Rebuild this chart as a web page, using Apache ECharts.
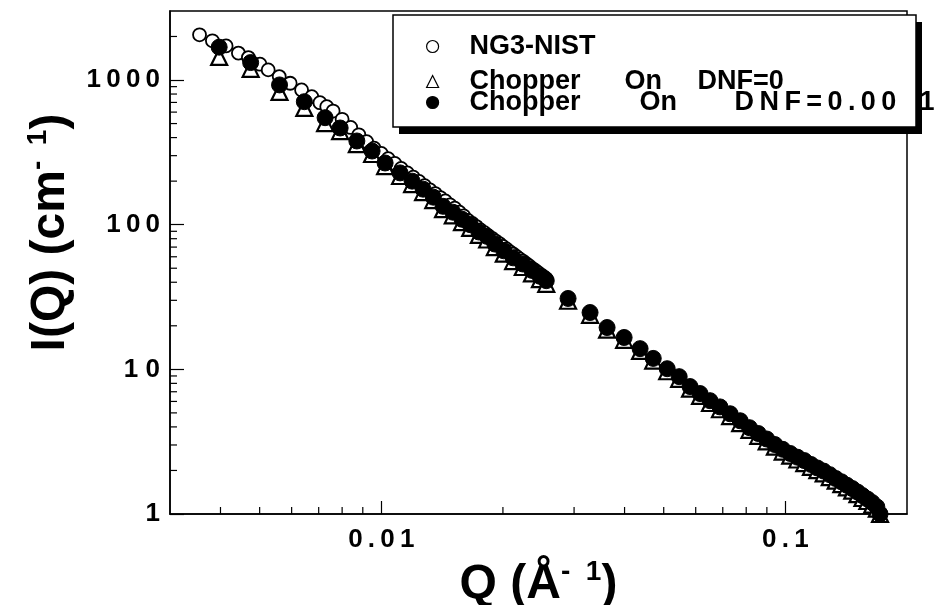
<!DOCTYPE html>
<html>
<head>
<meta charset="utf-8">
<script src="https://cdn.jsdelivr.net/npm/echarts@6/dist/echarts.min.js"></script>
<style>
html, body { margin: 0; padding: 0; background: #fff; }
#chart { width: 934px; height: 605px; }
</style>
</head>
<body>
<div id="chart"></div>
<script>
// NG3-NIST (open circles)
var ng3Q = [0.00355, 0.00382, 0.00413, 0.00443, 0.00469, 0.00501, 0.00525, 0.00559, 0.00595, 0.00635,
	0.00673, 0.00705, 0.00733, 0.0076, 0.0080, 0.0084, 0.0088, 0.0092, 0.0096, 0.0100,
	0.0104, 0.0108, 0.0112, 0.0116, 0.0120, 0.0124, 0.0128, 0.0132, 0.0136, 0.0140,
	0.0144, 0.0148, 0.0152, 0.0156, 0.0160, 0.0164, 0.0168, 0.0172, 0.0176, 0.0180,
	0.0184, 0.0188, 0.0192, 0.0196, 0.0200, 0.0204, 0.0208, 0.0212, 0.0216, 0.0220,
	0.0224, 0.0228, 0.0232, 0.0236, 0.0240, 0.0244, 0.0248, 0.0252, 0.0256];
var ng3I = [2053, 1866, 1722, 1535, 1429, 1287, 1175, 1056, 950, 854,
	767, 697, 654, 610, 535, 470, 418, 375, 338, 311,
	286, 265, 245, 228, 213, 199, 186, 174, 164, 154,
	146, 137, 130, 122, 115, 107, 102, 97, 92, 88,
	84, 80.5, 77, 74, 70.7, 68, 65, 62.7, 60.3, 58,
	56, 54, 52, 50, 48.4, 46.8, 45.2, 43.8, 42.3];

// Chopper On, both DNF settings share the Q grid
var chopQ = [0.00397, 0.00475, 0.00560, 0.00645, 0.00726, 0.00791, 0.00870, 0.00949, 0.01022, 0.01113,
	0.01192, 0.01269, 0.01345, 0.01422, 0.01503, 0.01584, 0.01660, 0.01744, 0.01828, 0.01910,
	0.02010, 0.02120, 0.02240, 0.02360, 0.02470, 0.02560, 0.02899, 0.03286, 0.03621, 0.0399,
	0.0437, 0.0471, 0.0510, 0.0546, 0.0581, 0.0615, 0.0651, 0.0689, 0.0730, 0.0773,
	0.0815, 0.0857, 0.0899, 0.0942, 0.0985, 0.1028, 0.1071, 0.1114, 0.1157, 0.1200,
	0.1244, 0.1288, 0.1332, 0.1376, 0.1420, 0.1464, 0.1508, 0.1552, 0.1596, 0.1640,
	0.1684, 0.1715];
var dnf0I = [1445, 1194, 827, 641, 504, 444, 361, 308, 254, 217,
	191, 168, 148, 128, 116, 104, 95, 85, 79, 70,
	63, 56, 51, 46, 42, 39, 29.8, 23.8, 18.8, 16.0,
	13.4, 11.5, 9.7, 8.6, 7.35, 6.55, 5.85, 5.3, 4.75, 4.25,
	3.82, 3.47, 3.18, 2.92, 2.70, 2.53, 2.38, 2.25, 2.12, 2.01,
	1.91, 1.80, 1.70, 1.61, 1.53, 1.45, 1.37, 1.29, 1.23, 1.16,
	1.09, 1.0];
var dnf001I = [1687, 1320, 925, 708, 549, 466, 379, 323, 267, 228,
	200, 176, 155, 134, 122, 109, 100, 89, 83, 73.5,
	66, 59, 53.5, 48.3, 44, 41, 30.9, 24.7, 19.45, 16.6,
	13.9, 11.9, 10.1, 8.9, 7.6, 6.8, 6.07, 5.5, 4.93, 4.41,
	3.95, 3.6, 3.3, 3.02, 2.8, 2.62, 2.47, 2.34, 2.2, 2.08,
	1.98, 1.87, 1.76, 1.67, 1.58, 1.5, 1.42, 1.34, 1.27, 1.2,
	1.12, 1.0];

// axis ticks
var xMinorTicks = [0.004, 0.005, 0.006, 0.007, 0.008, 0.009, 0.02, 0.03, 0.04, 0.05, 0.06, 0.07, 0.08, 0.09];
var yMinorTicks = [2, 3, 4, 5, 6, 7, 8, 9, 20, 30, 40, 50, 60, 70, 80, 90, 200, 300, 400, 500, 600, 700, 800, 900, 2000];
var xTickLabels = { '0.01': '0\u2009.\u20090\u20091', '0.1': '0\u2009.\u20091' };
var yTickLabels = { '1': '1', '10': '1 0', '100': '1\u20090\u20090', '1000': '1\u20090\u20090\u20090' };

var FONT = "'Liberation Sans', Arial, Helvetica, sans-serif";

function pairs(xs, ys) {
	var out = [];
	for (var i = 0; i < xs.length; i++) {
		out.push([xs[i], ys[i]]);
	}
	return out;
}

function tickKey(v) {
	return String(parseFloat(Number(v).toPrecision(6)));
}

var legendText = { fontFamily: FONT, fontSize: 27, fontWeight: 'bold', color: '#000' };

var chart = echarts.init(document.getElementById('chart'));

var option = {
	animation: false,
	backgroundColor: '#fff',
	grid: {
		left: 170,
		right: 27,
		top: 11,
		bottom: 91,
		outerBoundsMode: 'none',
		containLabel: false,
		show: true,
		borderColor: '#000',
		borderWidth: 1.5,
		backgroundColor: 'transparent'
	},
	graphic: [{
		type: 'rect',
		z: 5,
		shape: { x: 399, y: 22, width: 523, height: 112 },
		style: { fill: '#000' }
	}, {
		type: 'rect',
		z: 6,
		shape: { x: 393, y: 15, width: 523, height: 112 },
		style: { fill: '#fff', stroke: '#000', lineWidth: 1.5 }
	}],
	legend: [{
		z: 10,
		orient: 'vertical',
		left: 426,
		top: 33,
		padding: 0,
		itemWidth: 12,
		itemHeight: 12,
		itemGap: 0,
		data: ['NG3-NIST'],
		itemStyle: { borderWidth: 1.2 },
		textStyle: {
			fontFamily: FONT, fontSize: 27, fontWeight: 'bold', color: '#000',
			padding: [0, 0, 0, 26]
		}
	}, {
		z: 10,
		orient: 'vertical',
		left: 426,
		top: 68,
		padding: 0,
		itemWidth: 12,
		itemHeight: 12,
		itemGap: -6,
		data: ['Chopper On DNF=0', 'Chopper On DNF=0.001'],
		itemStyle: { borderWidth: 1.2 },
		formatter: function (name) {
			if (name === 'Chopper On DNF=0') return '{c1|Chopper}{o1|On}{d|DNF=0}';
			return '{c2|Chopper}{o2|On}{e|D\u2009N\u2009F\u2009=\u20090\u2009.\u20090\u20090}{d|1}';
		},
		textStyle: {
			fontFamily: FONT, fontSize: 27, fontWeight: 'bold', color: '#000',
			padding: [0, 0, 0, 26],
			rich: {
				c1: Object.assign({ width: 155 }, legendText),
				o1: Object.assign({ width: 73 }, legendText),
				c2: Object.assign({ width: 170 }, legendText),
				o2: Object.assign({ width: 95 }, legendText),
				e: Object.assign({ width: 185 }, legendText),
				d: legendText
			}
		}
	}],
	xAxis: {
		type: 'log',
		logBase: 10,
		min: 0.003,
		max: 0.2,
		name: '{n|Q (Å}{s|-  1}{n|)}',
		nameLocation: 'middle',
		nameGap: 34,
		nameTextStyle: {
			rich: {
				n: { fontFamily: FONT, fontSize: 48, fontWeight: 'bold', color: '#000', lineHeight: 54 },
				s: { fontFamily: FONT, fontSize: 28, fontWeight: 'bold', color: '#000', verticalAlign: 'top', lineHeight: 32 }
			}
		},
		axisLine: { show: true, lineStyle: { color: '#000', width: 1.5 } },
		axisTick: { show: true, inside: true, length: 13, lineStyle: { color: '#000', width: 1.2 } },
		axisLabel: {
			showMinLabel: false,
			showMaxLabel: false,
			margin: 13,
			fontFamily: FONT, fontSize: 26, fontWeight: 'bold', color: '#000',
			formatter: function (v) { return xTickLabels[tickKey(v)] || ''; }
		},
		splitLine: { show: false }
	},
	yAxis: {
		type: 'log',
		logBase: 10,
		min: 1,
		max: 3000,
		name: '{n|I(Q) (cm}{s|-  1}{n|)}',
		nameLocation: 'middle',
		nameRotate: 90,
		nameGap: 92,
		nameTextStyle: {
			padding: [0, 0, 0, 60],
			rich: {
				n: { fontFamily: FONT, fontSize: 48, fontWeight: 'bold', color: '#000', lineHeight: 54 },
				s: { fontFamily: FONT, fontSize: 28, fontWeight: 'bold', color: '#000', verticalAlign: 'top', lineHeight: 32 }
			}
		},
		axisLine: { show: true, lineStyle: { color: '#000', width: 1.5 } },
		axisTick: { show: true, inside: true, length: 14, lineStyle: { color: '#000', width: 1.2 } },
		axisLabel: {
			showMinLabel: true,
			showMaxLabel: false,
			margin: 10,
			fontFamily: FONT, fontSize: 26, fontWeight: 'bold', color: '#000',
			formatter: function (v) { return yTickLabels[tickKey(v)] || ''; }
		},
		splitLine: { show: false }
	},
	series: [{
		name: 'NG3-NIST',
		type: 'scatter',
		symbol: 'circle',
		symbolSize: 13,
		z: 2,
		itemStyle: { color: '#fff', borderColor: '#000', borderWidth: 1.8, opacity: 1 },
		data: pairs(ng3Q, ng3I)
	}, {
		name: 'Chopper On DNF=0',
		type: 'scatter',
		symbol: 'triangle',
		symbolSize: 16,
		z: 3,
		itemStyle: { color: '#fff', borderColor: '#000', borderWidth: 2.2, opacity: 1 },
		data: pairs(chopQ, dnf0I)
	}, {
		name: 'Chopper On DNF=0.001',
		type: 'scatter',
		symbol: 'circle',
		symbolSize: 16,
		z: 4,
		itemStyle: { color: '#000', borderColor: '#000', borderWidth: 1, opacity: 1 },
		data: pairs(chopQ, dnf001I)
	}, {
		// minor ticks on the Q axis
		type: 'custom',
		silent: true,
		clip: false,
		z: 1,
		renderItem: function (params, api) {
			var p = api.coord([api.value(0), 1]);
			return {
				type: 'line',
				shape: { x1: p[0], y1: p[1], x2: p[0], y2: p[1] - 7 },
				style: { stroke: '#000', lineWidth: 1.2 }
			};
		},
		data: xMinorTicks.map(function (v) { return [v, 1]; })
	}, {
		// minor ticks on the I axis
		type: 'custom',
		silent: true,
		clip: false,
		z: 1,
		renderItem: function (params, api) {
			var p = api.coord([0.003, api.value(1)]);
			return {
				type: 'line',
				shape: { x1: p[0], y1: p[1], x2: p[0] + 7, y2: p[1] },
				style: { stroke: '#000', lineWidth: 1.2 }
			};
		},
		data: yMinorTicks.map(function (v) { return [0.003, v]; })
	}]
};

chart.setOption(option);
</script>
</body>
</html>
